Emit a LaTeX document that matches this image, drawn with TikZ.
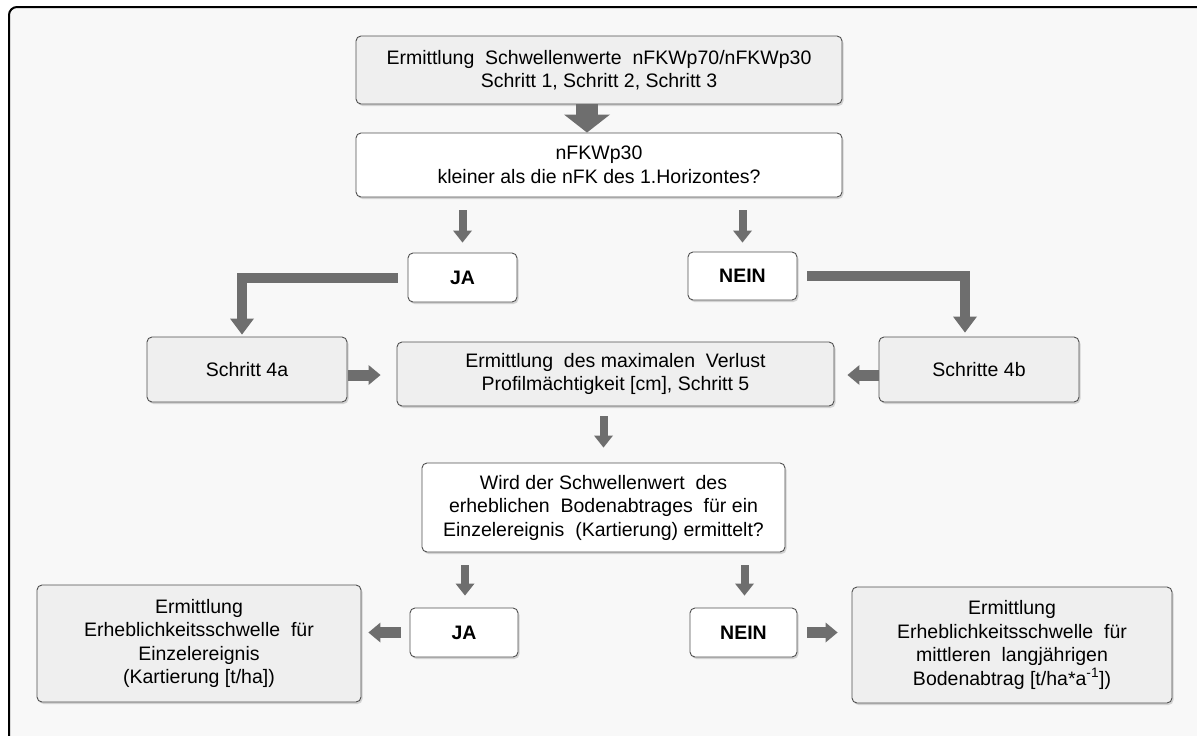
\documentclass[tikz,border=0pt]{standalone}
\usepackage{fontspec}
\setmainfont{Liberation Sans}
\usetikzlibrary{arrows.meta,shadows,calc}
\definecolor{bg}{HTML}{F8F8F8}
\definecolor{boxgray}{HTML}{EFEFEF}
\definecolor{edge}{HTML}{505050}
\definecolor{arr}{HTML}{6E6E6E}
\tikzset{
  box/.style={draw=edge, line width=0.9pt, rounded corners=5pt, align=center, inner sep=0pt,
    font=\fontsize{19.5}{23.5}\selectfont,
    drop shadow={shadow xshift=1.5pt, shadow yshift=-2pt, opacity=0.3}},
  graybox/.style={box, fill=boxgray},
  whitebox/.style={box, fill=white},
  bigarrow/.style={draw=arr, line width=22pt, -{Triangle[length=18pt 0 0, width=46pt 0 0, line width=0pt 0 0]}},
  varrow/.style={draw=arr, line width=8pt, -{Triangle[length=12pt 0 0, width=19pt 0 0, line width=0pt 0 0]}},
  harrow/.style={draw=arr, line width=11pt, -{Triangle[length=12pt 0 0, width=20pt 0 0, line width=0pt 0 0]}},
  elbowarrow/.style={draw=arr, line width=10pt, line join=miter, -{Triangle[length=16pt 0 0, width=24pt 0 0, line width=0pt 0 0]}},
}
\begin{document}
\begin{tikzpicture}[x=1pt, y=-1pt]
\useasboundingbox (0,0) rectangle (1197,736);
\fill[white] (0,0) rectangle (1197,736);
\begin{scope}
  \clip (0,0) rectangle (1197,736);
  \draw[line width=2pt, fill=bg, rounded corners=8pt] (9,7) rectangle (1230,770);
\end{scope}

\node[graybox, minimum width=486pt, minimum height=68pt] (top) at (599,70)
  {Ermittlung\ \ Schwellenwerte\ \ nFKWp70/nFKWp30\\Schritt 1, Schritt 2, Schritt 3};
\node[whitebox, minimum width=486pt, minimum height=64pt] (q1) at (599,165)
  {nFKWp30\\kleiner als die nFK des 1.Horizontes?};
\node[whitebox, minimum width=109pt, minimum height=49pt, font=\fontsize{19.5}{23.5}\selectfont\bfseries] (ja1) at (462.5,277.5) {JA};
\node[whitebox, minimum width=109pt, minimum height=48pt, font=\fontsize{19.5}{23.5}\selectfont\bfseries] (nein1) at (742.5,276) {NEIN};
\node[graybox, minimum width=200pt, minimum height=65pt] (s4a) at (247,369.5) {Schritt 4a};
\node[graybox, minimum width=437pt, minimum height=64pt] (s5) at (615.5,374)
  {Ermittlung\ \ des maximalen\ \ Verlust\\Profilm\"achtigkeit [cm], Schritt 5};
\node[graybox, minimum width=200pt, minimum height=65pt] (s4b) at (979,369.5) {Schritte 4b};
\node[whitebox, minimum width=363pt, minimum height=89pt] (q2) at (603.5,507.5)
  {Wird der Schwellenwert\ \ des\\erheblichen\ \ Bodenabtrages\ \ f\"ur ein\\Einzelereignis\ \ (Kartierung) ermittelt?};
\node[whitebox, minimum width=108pt, minimum height=49pt, font=\fontsize{19.5}{23.5}\selectfont\bfseries] (ja2) at (464,632.5) {JA};
\node[whitebox, minimum width=107pt, minimum height=49pt, font=\fontsize{19.5}{23.5}\selectfont\bfseries] (nein2) at (743.5,632.5) {NEIN};
\node[graybox, minimum width=324pt, minimum height=117pt] (eL) at (199,643.5)
  {Ermittlung\\Erheblichkeitsschwelle\ \ f\"ur\\Einzelereignis\\(Kartierung [t/ha])};
\node[graybox, minimum width=320pt, minimum height=116pt] (eR) at (1012,645)
  {Ermittlung\\Erheblichkeitsschwelle\ \ f\"ur\\mittleren\ \ langj\"ahrigen\\Bodenabtrag [t/ha*a\textsuperscript{-1}])};

% arrows
\draw[bigarrow] ([xshift=-12pt]top.south) -- ([xshift=-12pt]q1.north);
\draw[varrow] ($(q1.south -| ja1.north)+(0,13)$) -- ($(ja1.north)+(0,-10)$);
\draw[varrow] ($(q1.south -| nein1.north)+(0,13)$) -- ($(nein1.north)+(0,-9)$);
\draw[elbowarrow] ($(ja1.west)+(-10,0)$) -| ($(s4a.north)+(-5,-2)$);
\draw[elbowarrow] ($(nein1.east)+(10,0)$) -| ($(s4b.north)+(-14,-4)$);
\draw[harrow] ($(s4a.east |- s5.west)+(1,1)$) -- ($(s5.west)+(-16,1)$);
\draw[harrow] ($(s4b.west |- s5.east)+(0,1)$) -- ($(s5.east)+(13,1)$);
\draw[varrow] ($(s5.south -| q2.north)+(0,10)$) -- ($(q2.north)+(0,-15)$);
\draw[varrow] ($(q2.south -| ja2.north)+(1,13)$) -- ($(ja2.north)+(1,-12)$);
\draw[varrow] ($(q2.south -| nein2.north)+(1,13)$) -- ($(nein2.north)+(1,-12)$);
\draw[harrow] ($(ja2.west)+(-9,0)$) -- ($(eL.east |- ja2.west)+(7,0)$);
\draw[harrow] ($(nein2.east)+(10,0)$) -- ($(eR.west |- nein2.east)+(-14,0)$);
\end{tikzpicture}
\end{document}
